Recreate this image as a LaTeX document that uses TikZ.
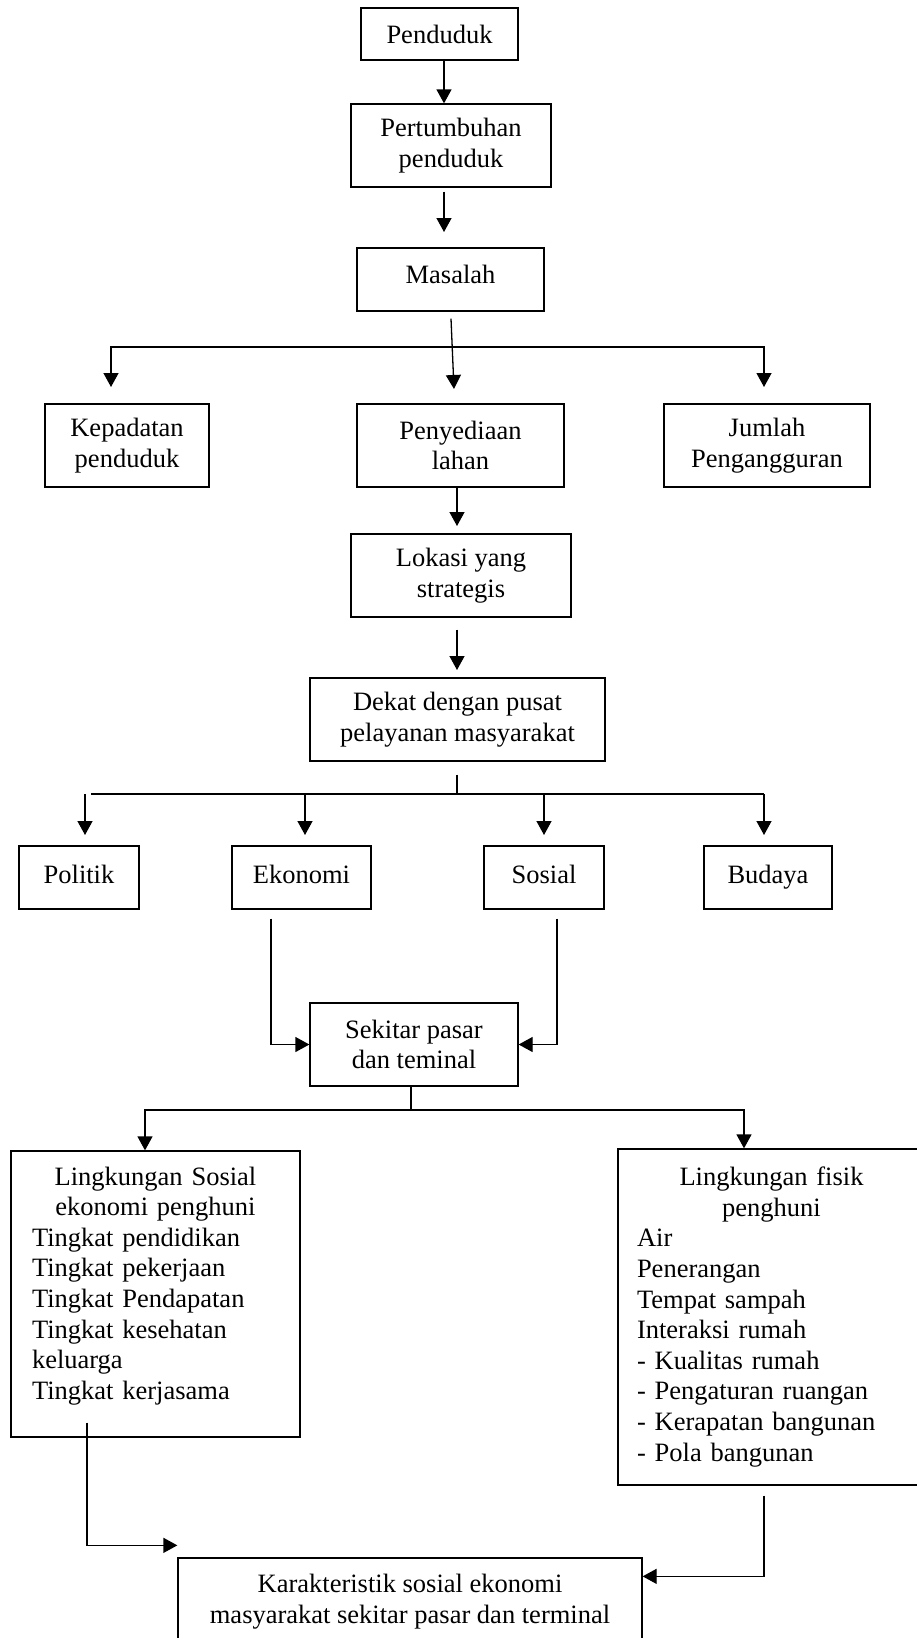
\documentclass[tikz,border=0pt]{standalone}
\usepackage{fontspec}
\setmainfont{Liberation Serif}
\usetikzlibrary{arrows.meta,calc}
\begin{document}
\begin{tikzpicture}[x=1pt,y=-1pt,
  box/.style={draw,line width=1.3pt,rectangle,inner sep=0pt,align=center,
    font=\fontsize{26.5}{30.6}\selectfont},
  onebox/.style={box,text height=18pt,text depth=6pt},
  conn/.style={line width=1.3pt},
  arr/.style={line width=1.3pt,-{Triangle[width=15pt,length=14pt]}},
  arrtwo/.style={line width=1.3pt,{Triangle[width=15pt,length=14pt]}-{Triangle[width=15pt,length=14pt]}},
]
\useasboundingbox (0,0) rectangle (917,1638);
\fill[white] (0,0) rectangle (917,1638);
\clip (0,0) rectangle (917,1638);

% boxes
\node[onebox,text depth=0pt,minimum width=157pt,minimum height=52pt] (pend) at (439.5,34) {Penduduk};
\node[box,minimum width=200pt,minimum height=83pt] (pert) at (451,145.5) {Pertumbuhan\\penduduk};
\node[onebox,text depth=11pt,minimum width=187pt,minimum height=63pt] (mas) at (450.5,279.5) {Masalah};
\node[box,minimum width=164pt,minimum height=83pt] (kep) at (127,445.5) {Kepadatan\\penduduk};
\node[box,minimum width=207pt,minimum height=83pt] (peny) at (460.5,445.5) {Penyediaan\\lahan};
\node[box,minimum width=206pt,minimum height=83pt] (jum) at (767,445.5) {Jumlah\\Pengangguran};
\node[box,minimum width=220pt,minimum height=83pt] (lok) at (461,575.5) {Lokasi yang\\strategis};
\node[box,minimum width=295pt,minimum height=83pt] (dek) at (457.5,719.5) {Dekat dengan pusat\\pelayanan masyarakat};
\node[onebox,minimum width=120pt,minimum height=63pt] (pol) at (79,877.5) {Politik};
\node[onebox,minimum width=139pt,minimum height=63pt] (eko) at (301.5,877.5) {Ekonomi};
\node[onebox,minimum width=120pt,minimum height=63pt] (sos) at (544,877.5) {Sosial};
\node[onebox,minimum width=128pt,minimum height=63pt] (bud) at (768,877.5) {Budaya};
\node[box,minimum width=208pt,minimum height=83pt] (sek) at (414,1044.5) {Sekitar pasar\\dan teminal};
\node[box,minimum width=289pt,minimum height=286pt,text width=247pt,align=left] (ls) at (155.5,1294)
  {\makebox[\linewidth][c]{Lingkungan Sosial}\\
   \makebox[\linewidth][c]{ekonomi penghuni}\\
   Tingkat pendidikan\\
   Tingkat pekerjaan\\
   Tingkat Pendapatan\\
   Tingkat kesehatan\\
   keluarga\\
   Tingkat kerjasama\\[-8.6pt]\mbox{}};
\node[box,minimum width=307pt,minimum height=336pt,text width=269pt,align=left] (lf) at (771.5,1317)
  {\makebox[\linewidth][c]{Lingkungan fisik}\\
   \makebox[\linewidth][c]{penghuni}\\
   Air\\
   Penerangan\\
   Tempat sampah\\
   Interaksi rumah\\
   - Kualitas rumah\\
   - Pengaturan ruangan\\
   - Kerapatan bangunan\\
   - Pola bangunan};
\node[box,minimum width=464pt,minimum height=87pt] (kar) at (410,1601.5)
  {Karakteristik sosial ekonomi\\masyarakat sekitar pasar dan terminal};

% coordinates for free ends and bends
\coordinate (masT) at (444,232);
\coordinate (penyT) at (454,389);
\coordinate (kepT) at (111,387);
\coordinate (jumT) at (764,387);
\coordinate (brA) at (111,347);
\coordinate (brB) at (764,347);
\coordinate (lokT) at (457,526);
\coordinate (dekT) at (457,670);
\coordinate (brC) at (457,794);
\coordinate (brL) at (91,794);
\coordinate (brR) at (764,794);
\coordinate (polT) at (85,835);
\coordinate (polS) at (85,794);
\coordinate (ekoT) at (305,835);
\coordinate (ekoS) at (305,794);
\coordinate (sosT) at (544,835);
\coordinate (sosS) at (544,794);
\coordinate (budT) at (764,835);
\coordinate (brD) at (411,1110);
\coordinate (brDl) at (145,1110);
\coordinate (brDr) at (744,1110);
\coordinate (karL) at ($(kar.north west)+(0,-12)$);
\coordinate (karR) at ($(kar.north east)+(0,19)$);

% connectors
\draw[arr] ($(pend.south)+(4.5,0)$) -- ($(pert.north)+(-7,0)$);
\draw[arr] ($(pert.south)+(-7,4)$) -- (masT);
\draw[arr] ($(mas.south)+(0.5,7)$) -- (penyT);
\draw[arrtwo] (kepT) -- (brA) -- (brB) -- (jumT);
\draw[arr] ($(peny.south)+(-3.5,0)$) -- (lokT);
\draw[arr] ($(lok.south)+(-4,12)$) -- (dekT);
\draw[conn] ($(dek.south)+(-0.5,13)$) -- (brC);
\draw[conn] (brL) -- (brR);
\draw[arr] (polS) -- (polT);
\draw[arr] (ekoS) -- (ekoT);
\draw[arr] (sosS) -- (sosT);
\draw[arr] (brR) -- (budT);
\draw[arr] ($(eko.south)+(-30.5,9)$) |- (sek.west);
\draw[arr] ($(sos.south)+(13,9)$) |- (sek.east);
\draw[conn] ($(sek.south)+(-3,0)$) -- (brD);
\draw[arrtwo] ($(ls.north)+(-10.5,0)$) -- (brDl) -- (brDr) -- ($(lf.north)+(-27.5,0)$);
\draw[arr] ($(ls.south)+(-68.5,-15)$) |- (karL);
\draw[arr] ($(lf.south)+(-7.5,10)$) |- (karR);
\end{tikzpicture}
\end{document}
